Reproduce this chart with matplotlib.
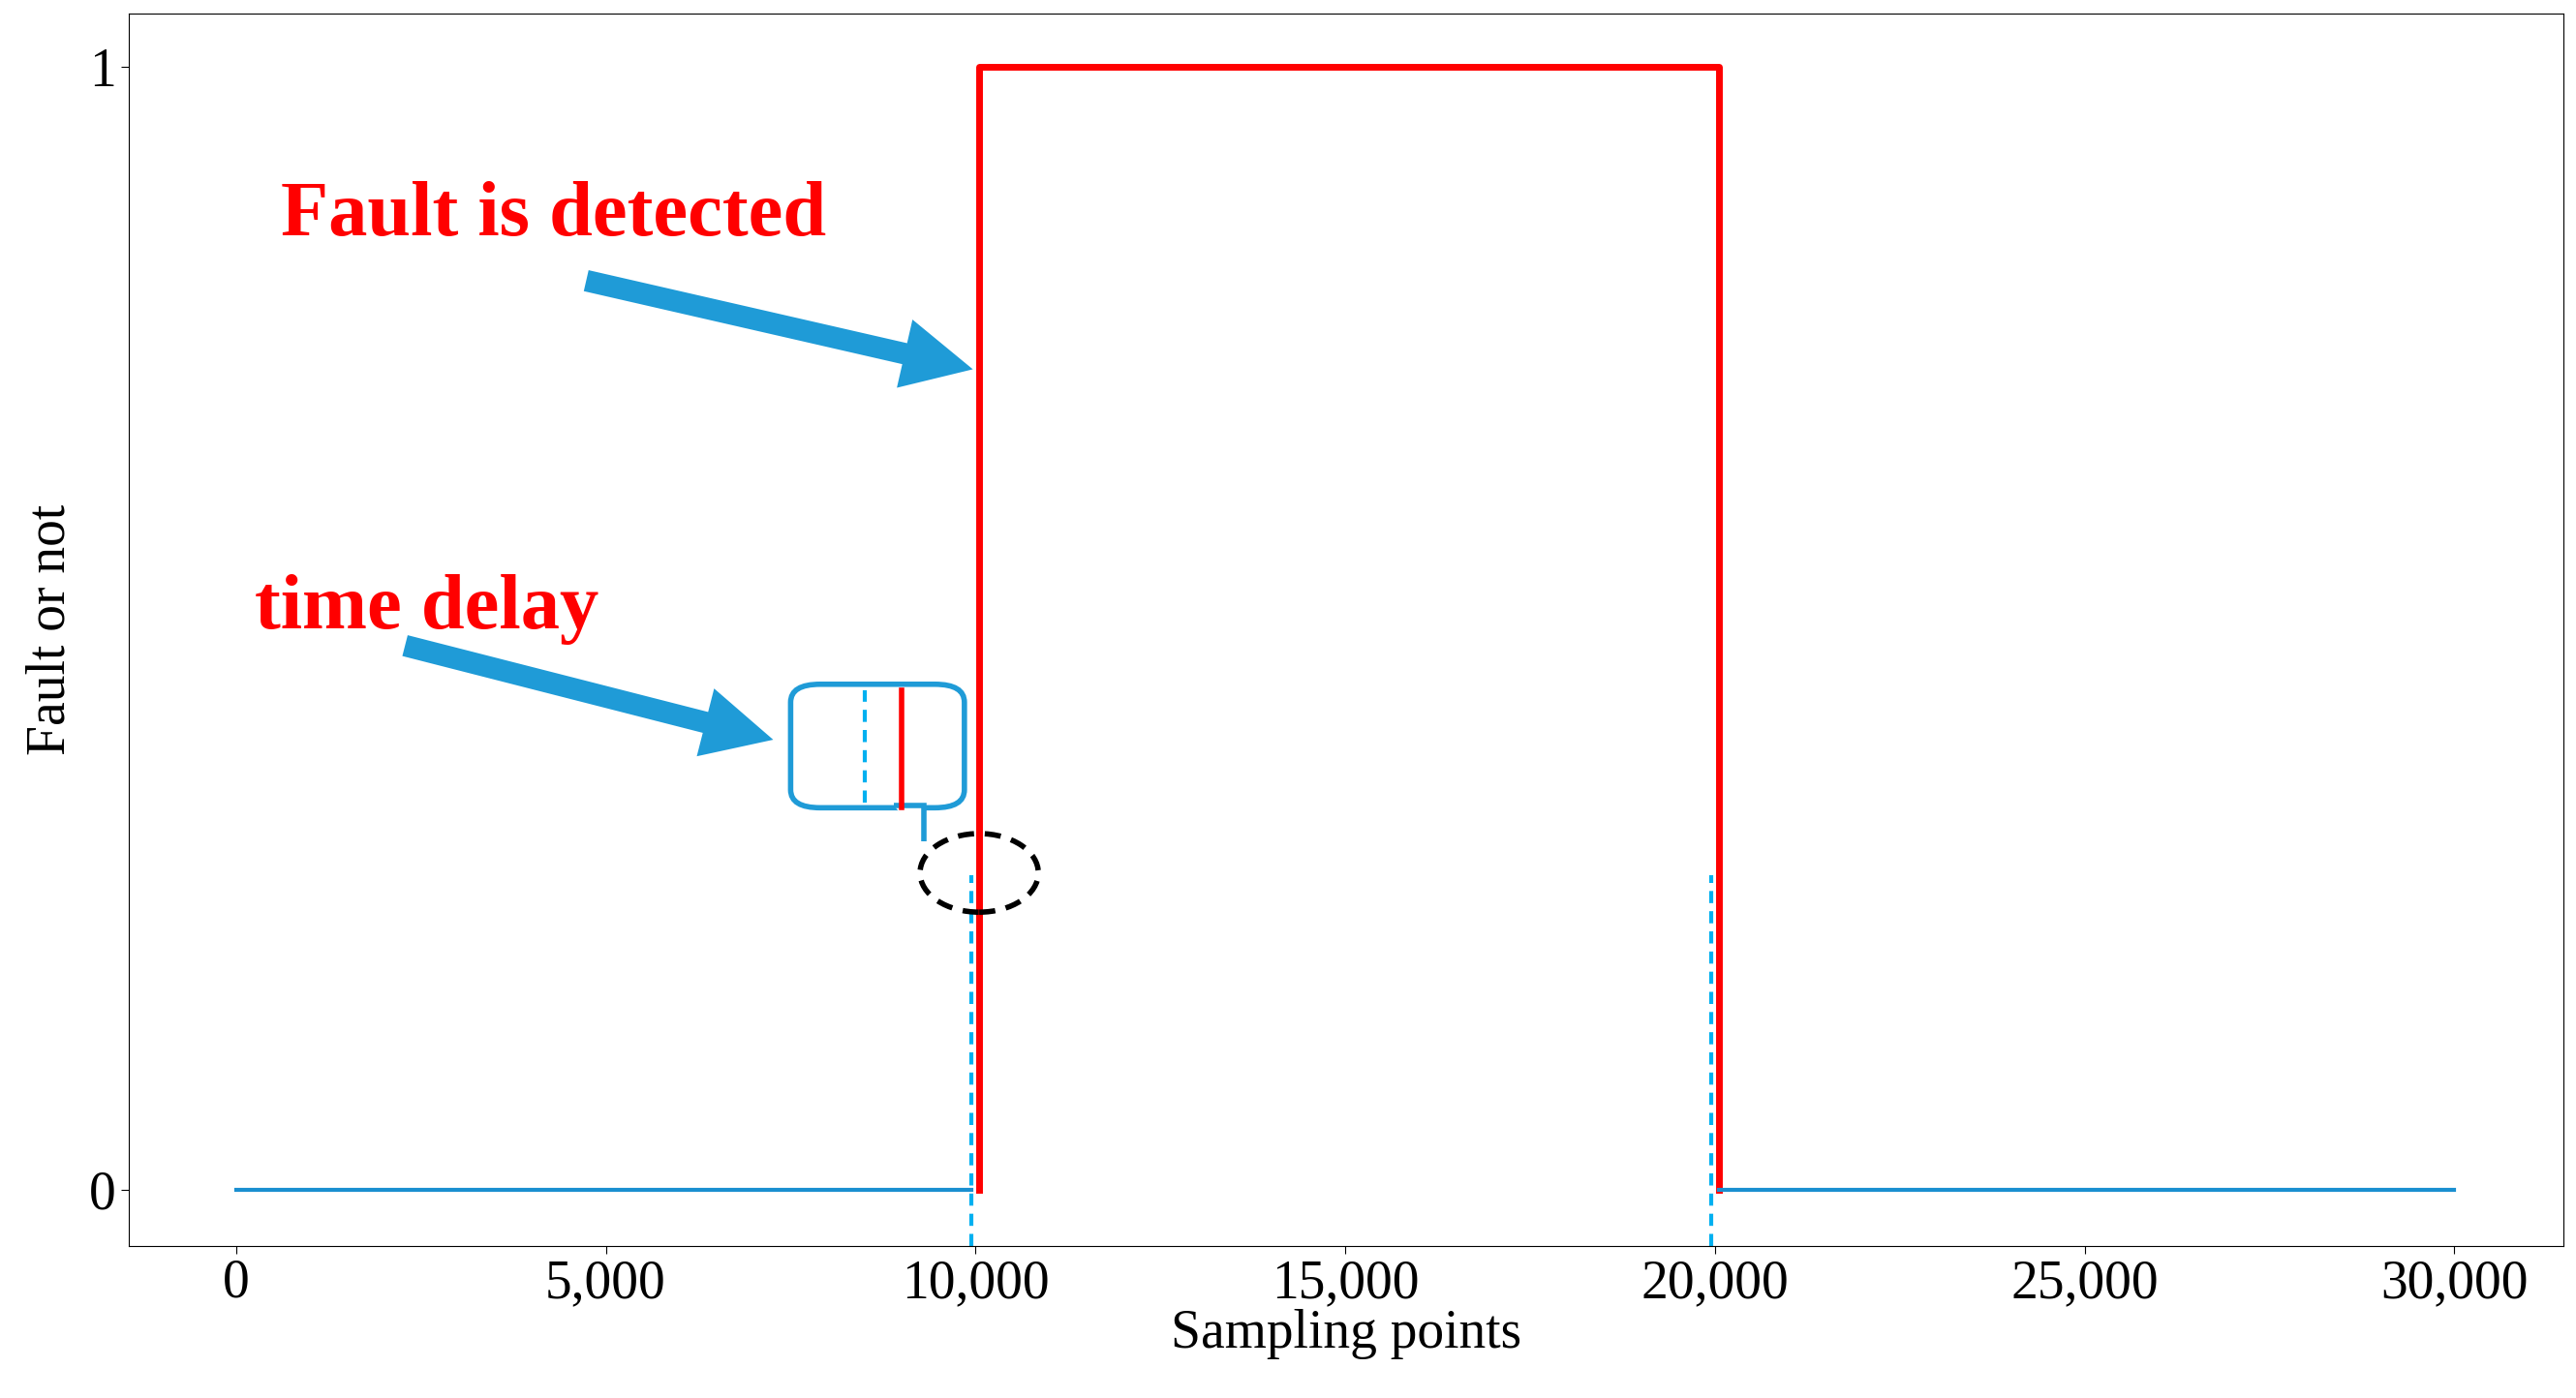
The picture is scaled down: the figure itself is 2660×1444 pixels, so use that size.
import matplotlib.pyplot as plt
from matplotlib.patches import Ellipse, FancyBboxPatch, Polygon

plt.rcParams['font.family'] = ['Liberation Serif', 'DejaVu Serif']

# data
red_x = [10050, 10050, 20050, 20050]
red_y = [0, 1, 1, 0]
blue_segments = [([0, 9950], [0, 0]), ([20050, 30000], [0, 0])]
true_change = [9950, 19950]
xticks = [0, 5000, 10000, 15000, 20000, 25000, 30000]

fig = plt.figure(figsize=(26.6, 14.44), dpi=100)
ax = fig.add_axes([0.05, 0.109, 0.945, 0.881])

ax.plot(red_x, red_y, color='red', lw=5, zorder=3)
for bx, by in blue_segments:
    ax.plot(bx, by, color='#1a8fd0', lw=3, zorder=4)
for xc in true_change:
    ax.plot([xc, xc], [-0.05, 0.28], color='#00b0f0', lw=3, ls=(0, (3, 2)), zorder=2)

ax.set_xlim(-1450, 31470)
ax.set_ylim(-0.05, 1.047)
ax.set_xticks(xticks)
ax.set_xticklabels([f'{v:,}' for v in xticks])
ax.set_yticks([0, 1])
ax.tick_params(labelsize=40, length=6)
ax.set_xlabel('Sampling points', fontsize=40, labelpad=0)
ax.set_ylabel('Fault or not', fontsize=40, labelpad=10)

arrow_c = '#1f9bd7'
style = 'simple,head_width=1.3,head_length=1.3,tail_width=0.4'
ax.text(600, 0.85, 'Fault is detected', color='red', fontsize=58, fontweight='bold')
ax.annotate('', xy=(10000, 0.73), xytext=(4700, 0.81),
            arrowprops=dict(arrowstyle=style, mutation_scale=40, color=arrow_c, lw=0))
ax.text(250, 0.5, 'time delay', color='red', fontsize=58, fontweight='bold')
ax.annotate('', xy=(7300, 0.4), xytext=(2250, 0.485),
            arrowprops=dict(arrowstyle=style, mutation_scale=40, color=arrow_c, lw=0))

# callout box
box = FancyBboxPatch((7500, 0.34), 2350, 0.11, boxstyle='round,pad=0,rounding_size=400',
                     fc='white', ec=arrow_c, lw=4, zorder=5, mutation_aspect=0.00004)
ax.add_patch(box)
ax.add_patch(Polygon([[8900, 0.342], [9300, 0.342], [9300, 0.31]], closed=False,
                     fc='white', ec=arrow_c, lw=4, zorder=6))
ax.plot([8500, 8500], [0.345, 0.445], color='#00b0f0', lw=3, ls=(0, (3, 2)), zorder=7)
ax.plot([9000, 9000], [0.34, 0.445], color='red', lw=4, zorder=7)

ax.add_patch(Ellipse((10050, 0.282), 1600, 0.07, fill=False, ec='black', lw=4,
                     ls=(0, (3, 2)), zorder=6))

fig.savefig('out.png')
